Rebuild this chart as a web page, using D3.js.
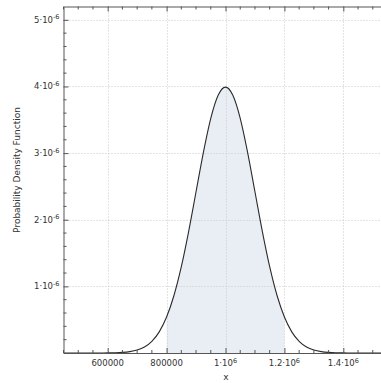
<!DOCTYPE html>
<html>
<head>
<meta charset="utf-8">
<script src="https://cdn.jsdelivr.net/npm/d3@7"></script>
<style>
  body { margin: 0; background: #fff; }
  svg { display: block; font-family: "DejaVu Sans", Verdana, sans-serif; }
</style>
</head>
<body>
<svg id="chart" width="381" height="383"></svg>
<script>
// x positions of the sampled curve
const xs = [450000, 475000, 500000, 525000, 550000, 575000, 600000, 625000, 650000, 675000,
  700000, 725000, 750000, 775000, 800000, 825000, 850000, 875000, 900000, 925000,
  950000, 975000, 1000000, 1025000, 1050000, 1075000, 1100000, 1125000, 1150000, 1175000,
  1200000, 1225000, 1250000, 1275000, 1300000, 1325000, 1350000, 1375000, 1400000, 1425000,
  1450000, 1475000, 1500000, 1525000, 1550000];
// density values (units 1e-6)
const ys = [0.0000011, 0.0000041, 0.0000149, 0.0000502, 0.00016, 0.000477, 0.001338, 0.003526, 0.008727, 0.02029,
  0.04432, 0.0909, 0.1753, 0.3174, 0.5399, 0.8628, 1.2952, 1.8265, 2.4197, 3.0114,
  3.5207, 3.8667, 3.9894, 3.8667, 3.5207, 3.0114, 2.4197, 1.8265, 1.2952, 0.8628,
  0.5399, 0.3174, 0.1753, 0.0909, 0.04432, 0.02029, 0.008727, 0.003526, 0.001338, 0.000477,
  0.00016, 0.0000502, 0.0000149, 0.0000041, 0.0000011];
// shaded interval
const shadeFrom = 800000, shadeTo = 1200000;

const xMajor = [600000, 800000, 1000000, 1200000, 1400000];
const xTickLabels = [["600000", ""], ["800000", ""], ["1·10", "6"], ["1.2·10", "6"], ["1.4·10", "6"]];
const yMajor = [1, 2, 3, 4, 5];
const yTickLabels = [["1·10", "-6"], ["2·10", "-6"], ["3·10", "-6"], ["4·10", "-6"], ["5·10", "-6"]];

const data = xs.map((x, i) => ({ x: x, y: ys[i] }));

const svg = d3.select('#chart');
const mLeft = 63.5, mBottom = 353, mTop = 6.5;

const x = d3.scaleLinear().domain([450000, 1550000]).range([mLeft, 387.5]);
const y = d3.scaleLinear().domain([0, 5.2]).range([mBottom, mTop]);

/// shaded area
const shaded = data.filter(d => d.x >= shadeFrom && d.x <= shadeTo);
svg.append('path').datum(shaded)
  .attr('fill', '#e9eef5')
  .attr('d', d3.area().curve(d3.curveMonotoneX).x(d => x(d.x)).y0(y(0)).y1(d => y(d.y)));

/// grid
const grid = svg.append('g').attr('stroke', '#c8c8c8').attr('stroke-dasharray', '1,2').attr('stroke-width', 1);
grid.selectAll('line.gx').data(xMajor).enter().append('line')
  .attr('x1', d => Math.round(x(d)) + 0.5).attr('x2', d => Math.round(x(d)) + 0.5)
  .attr('y1', mTop).attr('y2', mBottom);
grid.selectAll('line.gy').data(yMajor).enter().append('line')
  .attr('y1', d => Math.round(y(d)) + 0.5).attr('y2', d => Math.round(y(d)) + 0.5)
  .attr('x1', mLeft).attr('x2', 381);

/// curve
svg.append('path').datum(data)
  .attr('fill', 'none').attr('stroke', '#2a2a2a').attr('stroke-width', 1.1)
  .attr('d', d3.line().curve(d3.curveMonotoneX).x(d => x(d.x)).y(d => y(d.y)));

/// axes (ticks point inwards)
const xMinor = d3.range(450000, 1550001, 50000).filter(v => !xMajor.includes(v));
const yMinor = d3.range(0.2, 5.2, 0.2).filter(v => Math.abs(v - Math.round(v)) > 0.01);

const bAxis = svg.append('g').attr('transform', `translate(0,${mBottom})`)
  .call(d3.axisBottom(x).tickValues(xMajor).tickSizeInner(-5).tickSizeOuter(0).tickFormat(''));
bAxis.selectAll('.tick.minor').data(xMinor).enter().append('line')
  .attr('x1', d => x(d)).attr('x2', d => x(d)).attr('y1', 0).attr('y2', -3).attr('stroke', '#555');

const tAxis = svg.append('g').attr('transform', `translate(0,${mTop})`)
  .call(d3.axisTop(x).tickValues(xMajor).tickSizeInner(-5).tickSizeOuter(0).tickFormat(''));
tAxis.selectAll('.tick.minor').data(xMinor).enter().append('line')
  .attr('x1', d => x(d)).attr('x2', d => x(d)).attr('y1', 0).attr('y2', 3).attr('stroke', '#555');

const lAxis = svg.append('g').attr('transform', `translate(${mLeft},0)`)
  .call(d3.axisLeft(y).tickValues(yMajor).tickSizeInner(-5).tickSizeOuter(0).tickFormat(''));
lAxis.selectAll('.tick.minor').data(yMinor).enter().append('line')
  .attr('y1', d => y(d)).attr('y2', d => y(d)).attr('x1', 0).attr('x2', 3).attr('stroke', '#555');

svg.selectAll('.domain').attr('stroke', '#555');
svg.selectAll('.tick line').attr('stroke', '#555');

/// tick labels with superscripts
const xl = svg.append('g').attr('font-size', 8.5).attr('fill', '#333').attr('text-anchor', 'middle');
xMajor.forEach((v, i) => {
  const t = xl.append('text').attr('x', x(v)).attr('y', 366);
  t.append('tspan').text(xTickLabels[i][0]);
  if (xTickLabels[i][1]) t.append('tspan').attr('dy', -3.5).attr('font-size', 6.5).text(xTickLabels[i][1]);
});
const yl = svg.append('g').attr('font-size', 8.5).attr('fill', '#333').attr('text-anchor', 'end');
yMajor.forEach((v, i) => {
  const t = yl.append('text').attr('x', mLeft - 4).attr('y', y(v) + 3);
  t.append('tspan').text(yTickLabels[i][0]);
  t.append('tspan').attr('dy', -3.5).attr('font-size', 6.5).text(yTickLabels[i][1]);
});

/// axis titles
svg.append('text').attr('x', 226).attr('y', 380).attr('text-anchor', 'middle')
  .attr('font-size', 9).attr('fill', '#333').text('x');
svg.append('text').attr('transform', 'translate(20,170) rotate(-90)').attr('text-anchor', 'middle')
  .attr('font-size', 9).attr('fill', '#333').text('Probability Density Function');
</script>
</body>
</html>
